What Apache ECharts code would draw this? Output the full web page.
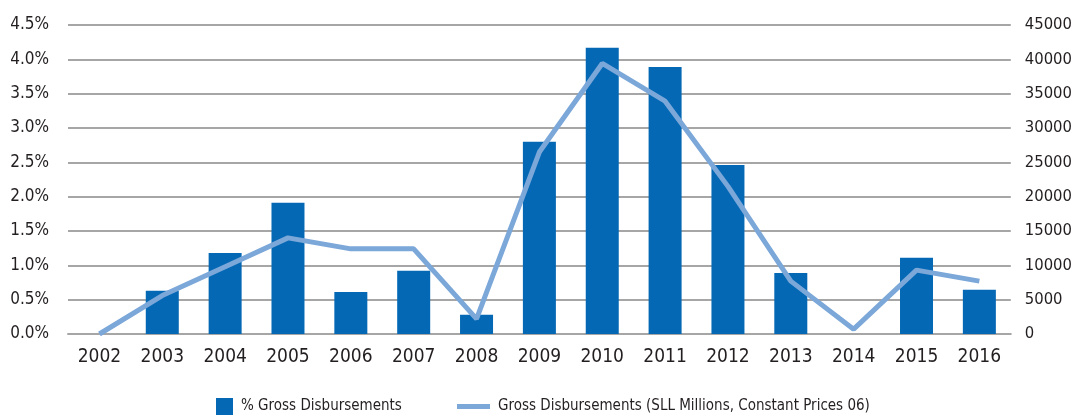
<!DOCTYPE html>
<html>
<head>
<meta charset="utf-8">
<script src="https://cdn.jsdelivr.net/npm/echarts@6/dist/echarts.min.js"></script>
<style>html,body{margin:0;padding:0;background:#fff}#c{width:1075px;height:415px}</style>
</head>
<body>
<div id="c"></div>
<script>
const categories = ['2002','2003','2004','2005','2006','2007','2008','2009','2010','2011','2012','2013','2014','2015','2016'];
const pctGross = [0, 0.63, 1.18, 1.91, 0.61, 0.92, 0.28, 2.80, 4.17, 3.89, 2.46, 0.89, 0, 1.11, 0.645];
const grossSLL = [0, 5600, 9800, 14000, 12400, 12400, 2200, 26500, 39400, 33900, 21500, 7700, 700, 9300, 7700];
const barName = '% Gross Disbursements';
const lineName = 'Gross Disbursements (SLL Millions, Constant Prices 06)';

const FONT = '"DejaVu Sans Condensed", "Liberation Sans Narrow", sans-serif';
const TXT = '#231f20';
const chart = echarts.init(document.getElementById('c'), null, {renderer: 'canvas'});
chart.setOption({
  animation: false,
  textStyle: {fontFamily: FONT, color: TXT},
  grid: {left: 68, right: 63, top: 25, bottom: 81, containLabel: false},
  legend: [
    {data: [barName], left: 216, top: 398, padding: 0, itemWidth: 17, itemHeight: 17, icon: 'rect',
     textStyle: {fontFamily: FONT, fontSize: 15, color: TXT, padding: [0,0,0,3]}},
    {data: [lineName], left: 457, top: 399, padding: 0, itemWidth: 33, itemHeight: 5, icon: 'rect',
     textStyle: {fontFamily: FONT, fontSize: 15, color: TXT, padding: [0,0,0,3]}}
  ],
  xAxis: {
    type: 'category', data: categories, boundaryGap: true,
    axisLine: {show: true, lineStyle: {color: '#a6a6a6', width: 2}},
    axisTick: {show: false},
    axisLabel: {fontFamily: FONT, fontSize: 19, color: TXT, margin: 14, interval: 0}
  },
  yAxis: [
    {type: 'value', min: 0, max: 4.5, interval: 0.5,
     axisLine: {show: false}, axisTick: {show: false},
     splitLine: {lineStyle: {color: '#a6a6a6', width: 2}},
     axisLabel: {fontFamily: FONT, fontSize: 17, color: TXT, margin: 19,
       formatter: v => v.toFixed(1) + '%'}},
    {type: 'value', min: 0, max: 45000, interval: 5000, position: 'right',
     axisLine: {show: false}, axisTick: {show: false}, splitLine: {show: false},
     axisLabel: {fontFamily: FONT, fontSize: 16.5, color: TXT, margin: 14,
       formatter: v => String(v)}}
  ],
  series: [
    {name: barName, type: 'bar', data: pctGross, yAxisIndex: 0, barWidth: 33,
     itemStyle: {color: '#0468b4'}},
    {name: lineName, type: 'line', data: grossSLL, yAxisIndex: 1, showSymbol: false, symbol: 'none',
     lineStyle: {color: '#7ba7d9', width: 5}, itemStyle: {color: '#7ba7d9'}}
  ]
});
</script>
</body>
</html>
